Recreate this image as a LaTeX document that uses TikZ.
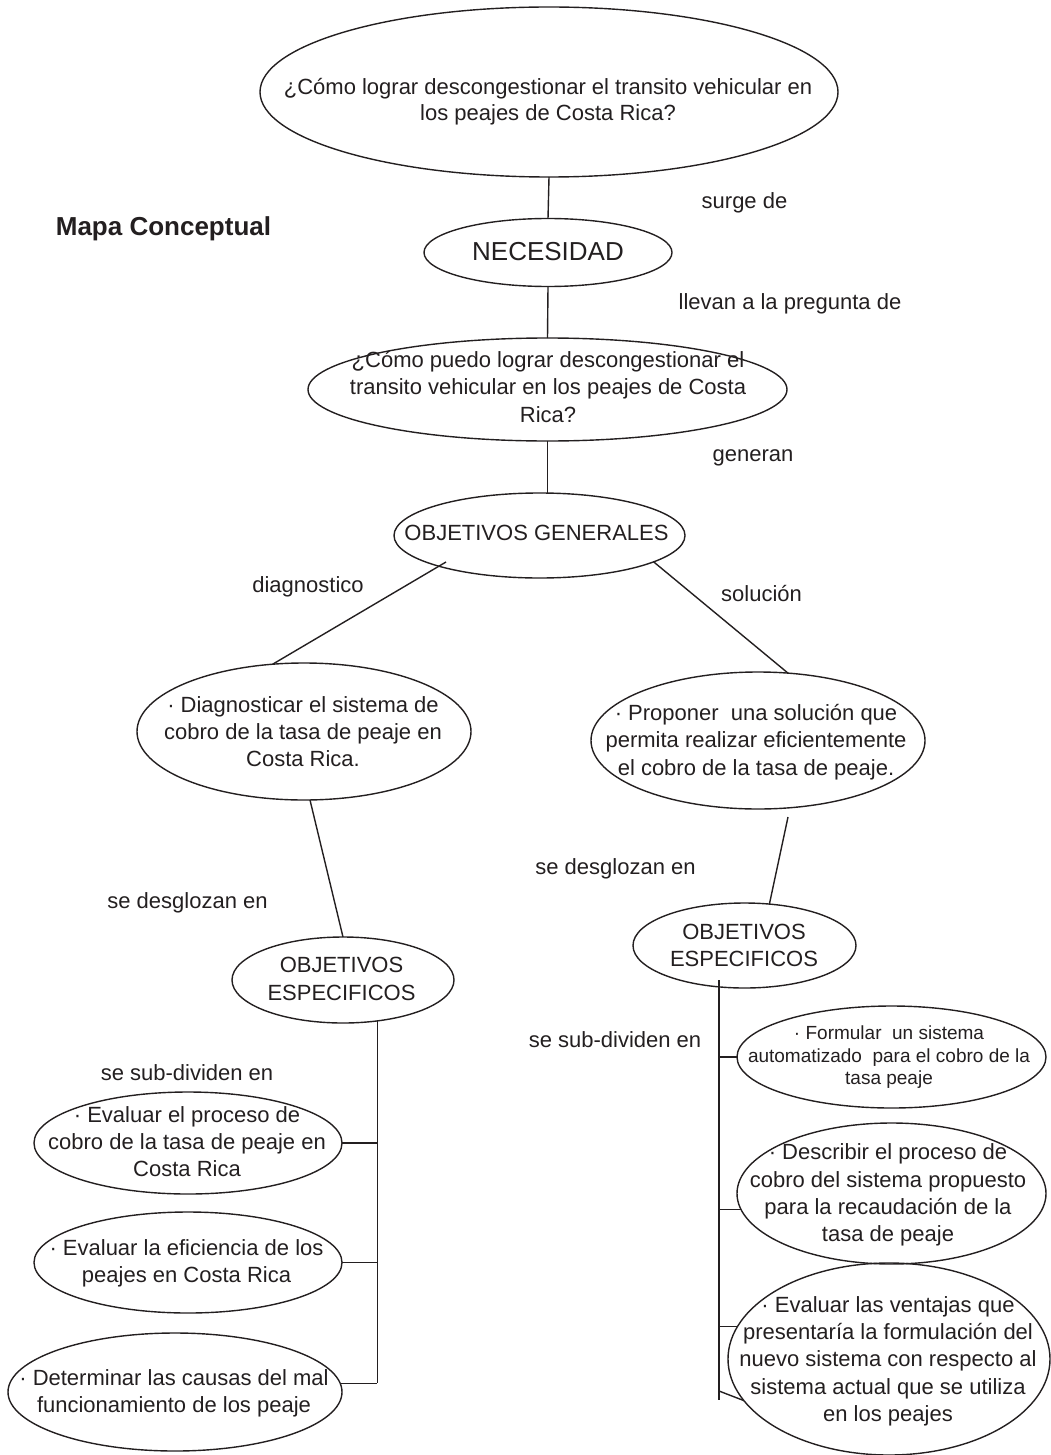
\documentclass[tikz,border=0pt]{standalone}
\usepackage{fontspec}
\setmainfont{Liberation Sans}
\usetikzlibrary{shapes.geometric,calc}
\definecolor{ink}{HTML}{231F20}
\newdimen\pxu \pxu=0.75pt
\begin{document}
\begin{tikzpicture}[x=0.75pt,y=-0.75pt,
  ell/.style={draw=ink,line width=1.05pt,ellipse,inner sep=0pt,outer sep=0pt},
  txt/.style={text=ink,align=center,inner sep=0pt,font=\fontsize{16.5}{20.5}\selectfont},
  lbl/.style={text=ink,inner sep=0pt,font=\fontsize{16.5}{20.5}\selectfont},
  conn/.style={draw=ink,line width=1.05pt}]
\useasboundingbox (0,0) rectangle (1050,1455);

% ellipses
\node[ell,minimum width=578\pxu,minimum height=170\pxu] (top) at (549,92) {};
\node[ell,minimum width=248\pxu,minimum height=68\pxu] (nec) at (548,252.5) {};
\node[ell,minimum width=479\pxu,minimum height=103\pxu] (q2) at (547.5,389.5) {};
\node[ell,minimum width=291\pxu,minimum height=85\pxu] (og) at (539.5,535.5) {};
\node[ell,minimum width=334\pxu,minimum height=137\pxu] (diag) at (304,731.5) {};
\node[ell,minimum width=334\pxu,minimum height=137\pxu] (prop) at (758,740.5) {};
\node[ell,minimum width=222\pxu,minimum height=86\pxu] (oeL) at (343,980) {};
\node[ell,minimum width=223\pxu,minimum height=85\pxu] (oeR) at (744.5,945.5) {};
\node[ell,minimum width=309\pxu,minimum height=102\pxu] (form) at (891.5,1057) {};
\node[ell,minimum width=309\pxu,minimum height=141\pxu] (desc) at (891.5,1193.5) {};
\node[ell,minimum width=322\pxu,minimum height=192\pxu] (vent) at (889,1359) {};
\node[ell,minimum width=308\pxu,minimum height=102\pxu] (sa) at (188,1143) {};
\node[ell,minimum width=308\pxu,minimum height=101\pxu] (sb) at (188,1262.5) {};
\node[ell,minimum width=334\pxu,minimum height=118\pxu] (sc) at (175,1392) {};

% texts inside ellipses
\node[txt,font=\fontsize{16.5}{19.5}\selectfont] (topT) at (548,102) {¿Cómo lograr descongestionar el transito vehicular en\\los peajes de Costa Rica?};
\node[txt,font=\fontsize{19.5}{22}\selectfont] (necT) at (548,252) {NECESIDAD};
\node[txt] (q2T) at (548,387) {¿Cómo puedo lograr descongestionar el\\transito vehicular en los peajes de Costa\\Rica?};
\node[txt] (ogT) at (536.5,533) {OBJETIVOS GENERALES};
\node[txt] (diagT) at (303,731.5) {· Diagnosticar el sistema de\\cobro de la tasa de peaje en\\Costa Rica.};
\node[txt] (propT) at (756,742) {· Proponer\ \ una solución que\\permita realizar eficientemente\\el cobro de la tasa de peaje.};
\node[txt] (oeLT) at (341.5,979) {OBJETIVOS\\ESPECIFICOS};
\node[txt] (oeRT) at (744,945.5) {OBJETIVOS\\ESPECIFICOS};
\node[txt,font=\fontsize{14.25}{16.9}\selectfont] (formT) at (889,1057.5) {· Formular\ \ un sistema\\automatizado\ \ para el cobro de la\\tasa peaje};
\node[txt] (descT) at (888,1195) {· Describir el proceso de\\cobro del sistema propuesto\\para la recaudación de la\\tasa de peaje};
\node[txt] (ventT) at (888,1361) {· Evaluar las ventajas que\\presentaría la formulación del\\nuevo sistema con respecto al\\sistema actual que se utiliza\\en los peajes};
\node[txt] (saT) at (187,1141.5) {· Evaluar el proceso de\\cobro de la tasa de peaje en\\Costa Rica};
\node[txt] (sbT) at (186.5,1263) {· Evaluar la eficiencia de los\\peajes en Costa Rica};
\node[txt] (scT) at (174,1393) {· Determinar las causas del mal\\funcionamiento de los peaje};

% free labels
\node[lbl,font=\bfseries\fontsize{19.5}{22}\selectfont] (title) at (163.5,229) {Mapa Conceptual};
\node[lbl] (l1) at (744.5,203) {surge de};
\node[lbl] (l2) at (790,304) {llevan a la pregunta de};
\node[lbl] (l3) at (753,458) {generan};
\node[lbl] (l4) at (308,587) {diagnostico};
\node[lbl] (l5) at (761.5,594) {solución};
\node[lbl] (l6) at (187.5,903) {se desglozan en};
\node[lbl] (l7) at (615.5,869) {se desglozan en};
\node[lbl] (l8) at (187,1073) {se sub-dividen en};
\node[lbl] (l9) at (615,1040) {se sub-dividen en};

% connectors
\draw[conn] (top.south) -- (nec.north);
\draw[conn] (nec.south) -- (q2.north);
\draw[conn] (q2.south) -- (q2.south |- og.north);
\coordinate (ogL) at ($(og.center)+(-93.5,26.5)$);
\draw[conn] (ogL) -- (diag.115);
\draw[conn] (og.-13) -- (prop.66);
\draw[conn] (diag.-85) -- (oeL.north);
\coordinate (pgap) at ($(prop.south)+(30,8)$);
\draw[conn] (pgap) -- (oeR.59);

% left trunk
\coordinate (ltop) at (oeL.-50);
\coordinate (lbot) at (ltop |- sc.3);
\draw[conn] (ltop) -- (lbot);
\draw[conn] (sa.east) -- (sa.east -| lbot);
\draw[conn] (sb.east) -- (sb.east -| lbot);
\draw[conn] (sc.3) -- (lbot);

% right trunk
\coordinate (rtop) at ($(oeR.center)+(-25.5,34.5)$);
\coordinate (rbot) at ($(rtop)+(0,420)$);
\coordinate (rslant) at ($(rtop)+(0,411)$);
\draw[conn] (rtop) -- (rbot);
\draw[conn] (form.west) -- (form.west -| rtop);
\draw[conn] (desc.186) -- (desc.186 -| rtop);
\draw[conn] (vent.168) -- (vent.168 -| rtop);
\draw[conn] (vent.196) -- (rslant);
\end{tikzpicture}
\end{document}
